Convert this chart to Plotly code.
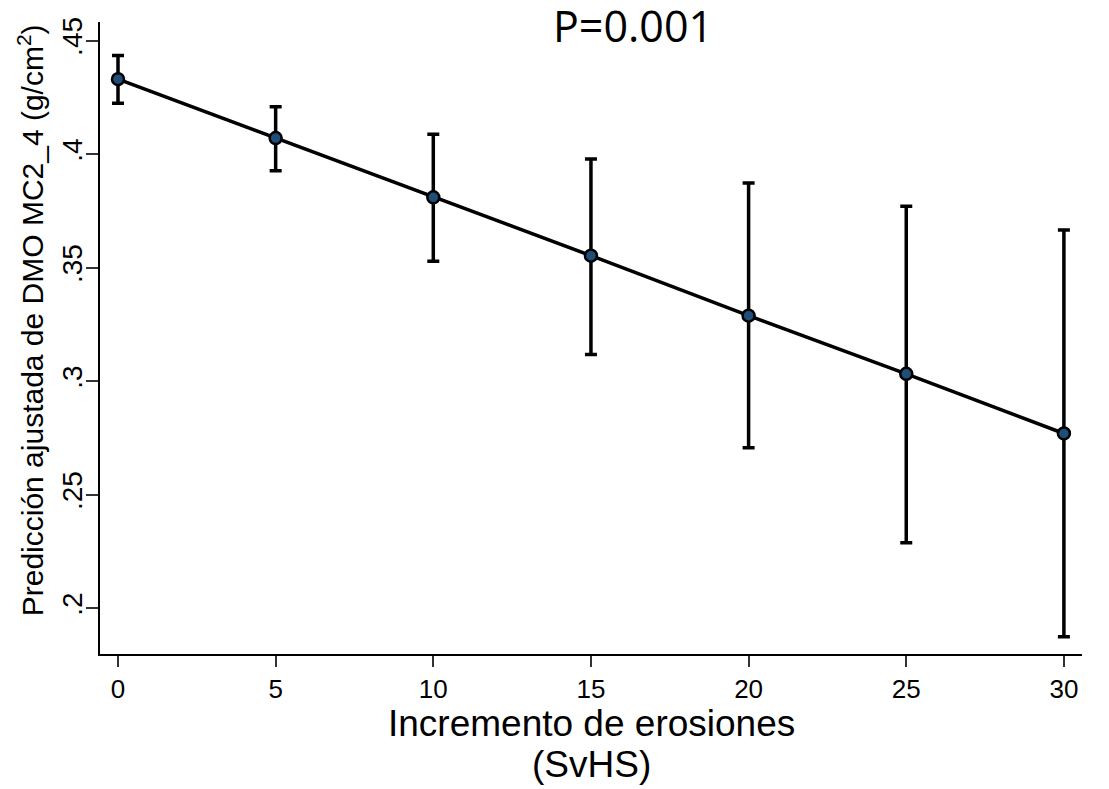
import plotly.graph_objects as go

# Margins plot: adjusted prediction with 95% CI
erosion_increment = [0, 5, 10, 15, 20, 25, 30]
predicted = [0.4330, 0.4071, 0.3810, 0.3553, 0.3289, 0.3033, 0.2770]
ci_lower = [0.4224, 0.3927, 0.3528, 0.3118, 0.2707, 0.2289, 0.1875]
ci_upper = [0.4434, 0.4209, 0.4088, 0.3979, 0.3873, 0.3771, 0.3666]

y_tickvals = [0.20, 0.25, 0.30, 0.35, 0.40, 0.45]
y_ticktext = [".2", ".25", ".3", ".35", ".4", ".45"]
x_tickvals = [0, 5, 10, 15, 20, 25, 30]

x_title_lines = ["Incremento de erosiones", "(SvHS)"]
y_title = "Predicción ajustada de DMO MC2_4 (g/cm<sup>2</sup>)"
p_label = "P=0.001"

err_plus = [u - p for u, p in zip(ci_upper, predicted)]
err_minus = [p - l for p, l in zip(predicted, ci_lower)]

FONT = "Liberation Sans, Arial, sans-serif"

fig = go.Figure(
    go.Scatter(
        x=erosion_increment,
        y=predicted,
        mode="lines+markers",
        line={"color": "black", "width": 3.5},
        marker={"size": 12, "color": "#1f4e79", "line": {"color": "black", "width": 2.5}},
        error_y={
            "type": "data",
            "symmetric": False,
            "array": err_plus,
            "arrayminus": err_minus,
            "color": "black",
            "thickness": 3.5,
            "width": 6,
        },
        showlegend=False,
    )
)

# page has an 8px body margin, so the figure is sized to fit inside it
fig.update_layout(
    width=1101,
    height=781,
    paper_bgcolor="white",
    plot_bgcolor="white",
    font={"family": FONT, "color": "black"},
    margin={"l": 92, "r": 27, "t": 14, "b": 135},
    xaxis={
        "range": [-0.571, 30.574],
        "tickvals": x_tickvals,
        "ticks": "outside",
        "ticklen": 11,
        "tickwidth": 1.5,
        "tickcolor": "#333",
        "showline": True,
        "linecolor": "black",
        "linewidth": 1.5,
        "showgrid": False,
        "zeroline": False,
        "automargin": False,
        "tickfont": {"size": 26},
    },
    yaxis={
        "range": [0.1799, 0.4582],
        "tickvals": y_tickvals,
        "ticktext": y_ticktext,
        "tickangle": -90,
        "ticks": "outside",
        "ticklen": 12,
        "tickwidth": 1.5,
        "tickcolor": "#333",
        "ticklabelstandoff": -7,
        "showline": True,
        "linecolor": "black",
        "linewidth": 1.5,
        "showgrid": False,
        "zeroline": False,
        "automargin": False,
        "tickfont": {"size": 28},
    },
    annotations=[
        {
            "text": p_label,
            "xref": "paper",
            "yref": "paper",
            "x": 0.543,
            "y": 0.995,
            "xanchor": "center",
            "yanchor": "middle",
            "showarrow": False,
            "font": {"family": "Open Sans, sans-serif", "size": 43, "color": "black"},
        },
        {
            "text": x_title_lines[0],
            "xref": "paper",
            "yref": "paper",
            "x": 0.5,
            "y": 0,
            "xanchor": "center",
            "yanchor": "top",
            "yshift": -47,
            "showarrow": False,
            "font": {"size": 37},
        },
        {
            "text": x_title_lines[1],
            "xref": "paper",
            "yref": "paper",
            "x": 0.5,
            "y": 0,
            "xanchor": "center",
            "yanchor": "top",
            "yshift": -88,
            "showarrow": False,
            "font": {"size": 37},
        },
        {
            "text": y_title,
            "xref": "paper",
            "yref": "paper",
            "x": 0,
            "y": 0.528,
            "xanchor": "center",
            "yanchor": "middle",
            "xshift": -69,
            "textangle": -90,
            "showarrow": False,
            "font": {"size": 30},
        },
    ],
)

fig.write_html("out.html")
